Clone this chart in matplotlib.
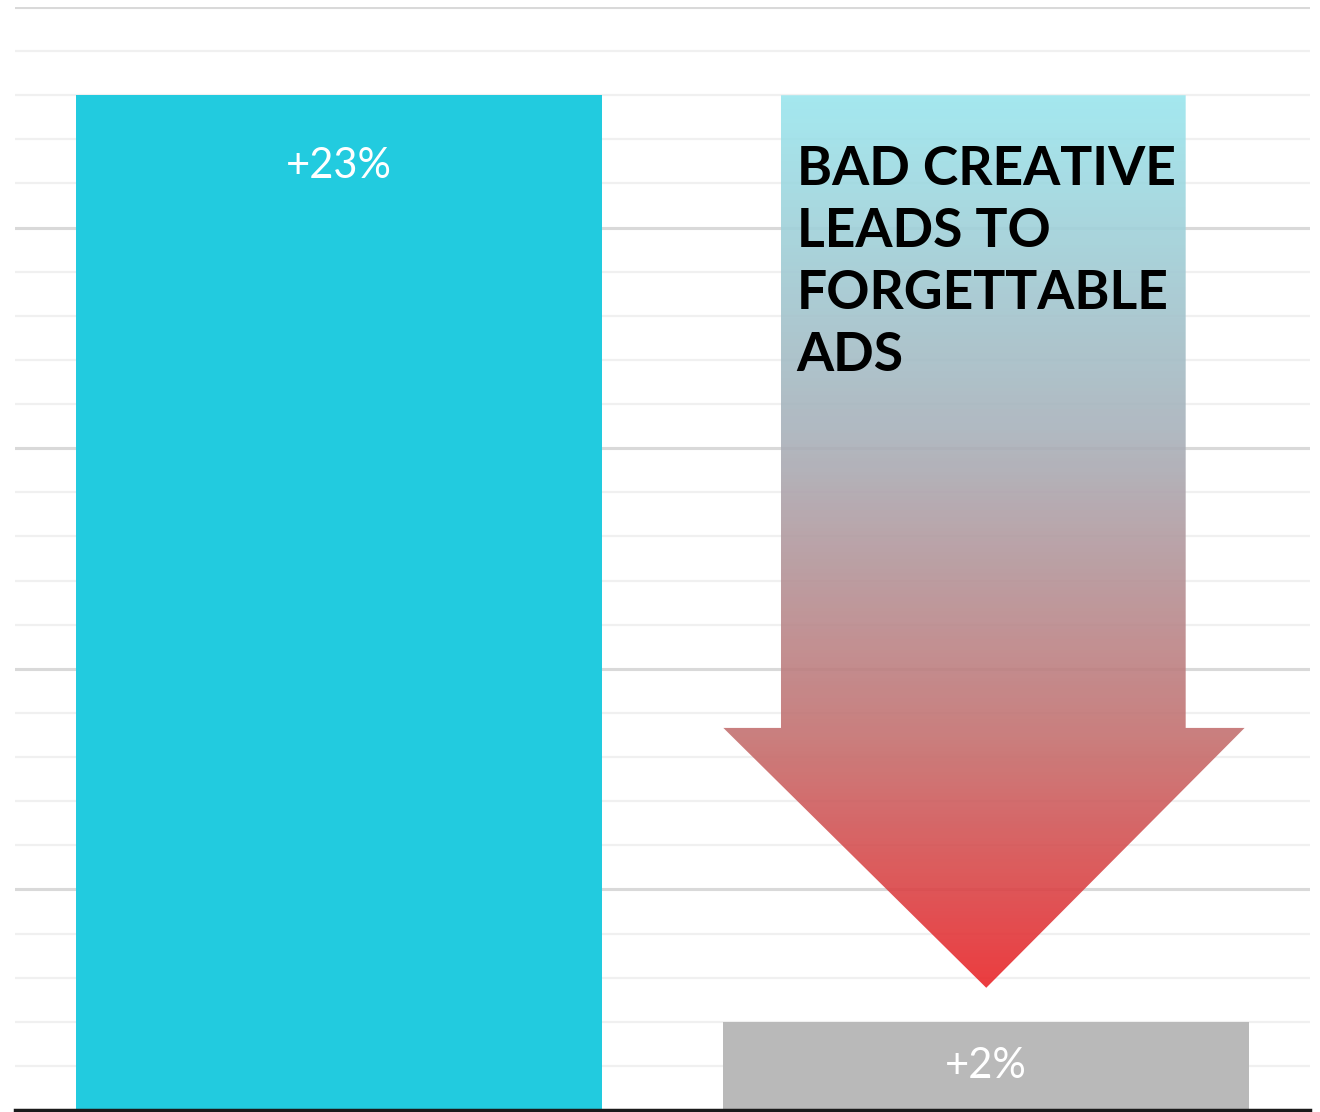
import numpy as np
import matplotlib.pyplot as plt
from matplotlib.patches import Polygon
from matplotlib.colors import LinearSegmentedColormap

# bar data
categories = ["Good creative", "Bad creative"]
values = [23, 2]
labels = ["+23%", "+2%"]
bar_colors = ["#22CBDF", "#B9B9B9"]

callout = "BAD CREATIVE\nLEADS TO\nFORGETTABLE\nADS"

plt.rcParams["font.family"] = ["Lato", "DejaVu Sans"]

fig = plt.figure(figsize=(13.2, 11.12), dpi=100)
ax = fig.add_axes([15 / 1320, 2 / 1112, 1295 / 1320, 1103 / 1112])

x = np.arange(len(categories))
width = 0.812

# gridlines: light every 1 pt, darker every 5 pts
for y in range(1, 26):
    if y % 5 == 0:
        ax.axhline(y, color="#D9D9D9", lw=2.2, zorder=0)
    else:
        ax.axhline(y, color="#F0F0F0", lw=1.6, zorder=0)

bars = ax.bar(x, values, width=width, color=bar_colors, zorder=2)

for xi, v, lab in zip(x, values, labels):
    if v > 10:
        ty = v - 1.6
    else:
        ty = v - 1.0
    ax.text(xi, ty, lab, ha="center", va="center", color="white",
            fontsize=30, zorder=5)

ax.set_xlim(-0.5, 1.5)
ax.set_ylim(0, 25)

# gradient arrow pointing down at the second bar
bx = x[1]
top = values[0]
tip = values[1] + 0.77
head_base = 8.66
shaft_l, shaft_r = bx - 0.317, bx + 0.308
head_l, head_r = bx - 0.406, bx + 0.399
arrow_pts = [
    (shaft_l, top), (shaft_r, top), (shaft_r, head_base), (head_r, head_base),
    (bx, tip), (head_l, head_base), (shaft_l, head_base),
]
arrow = Polygon(arrow_pts, closed=True, facecolor="none", edgecolor="none")
ax.add_patch(arrow)

cmap = LinearSegmentedColormap.from_list(
    "fade", [(0.0, "#9AE6EE"), (0.38, "#A8B1BA"), (0.72, "#C4706F"), (1.0, "#EA262A")]
)
grad = np.linspace(0, 1, 256).reshape(-1, 1)
im = ax.imshow(grad, cmap=cmap, aspect="auto", alpha=0.9,
               extent=[head_l, head_r, tip, top], origin="upper", zorder=3)
im.set_clip_path(arrow)

ax.text(shaft_l + 0.024, top - 1.12, callout, ha="left", va="top",
        fontsize=38.5, fontweight="bold", color="black", linespacing=1.33, zorder=6)

ax.set_xticks([])
ax.set_yticks([])
for side in ["top", "right", "left"]:
    ax.spines[side].set_visible(False)
ax.spines["bottom"].set_color("#1A1A1A")
ax.spines["bottom"].set_linewidth(2.5)
ax.spines["bottom"].set_zorder(4)

fig.savefig("out.png", dpi=100)
